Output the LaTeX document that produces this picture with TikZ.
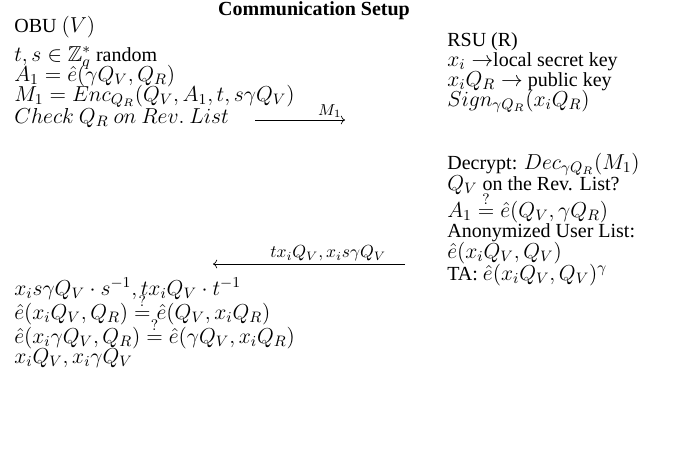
\RequirePackage{fix-cm}
\documentclass[tikz,border=0pt]{standalone}
\usepackage{amsmath,amssymb}
\usepackage[no-math]{fontspec}
\setmainfont{Liberation Serif}
\DeclareMathSizes{12}{13}{9.1}{6.5}
\usetikzlibrary{positioning,arrows.meta}

\tikzset{
  lline/.style={anchor=base west, inner sep=0pt, font=\fontsize{12}{14}\selectfont},
  msg/.style={->, >=To, line width=0.4pt},
  msglabel/.style={inner sep=1.5pt, font=\fontsize{9.5}{11}\selectfont}
}

\begin{document}
\begin{tikzpicture}[x=0.6pt,y=0.6pt]
        \useasboundingbox (0,0) rectangle (688,-452);
        \node[anchor=base, inner sep=0pt, font=\fontsize{12}{14}\selectfont\bfseries] (title) at (314,-16) {Communication Setup};
        % OBU side
        \node[lline] (obu) at (14,-33) {OBU $(V)$};
        \node[lline] (rnd) at (14,-61) {$t,s\in\mathbb{Z}_q^*$ random};
        \node[lline] (aone) at (14,-81) {$A_1=\hat{e}(\gamma Q_V,Q_R)$};
        \node[lline] (mone) at (14,-101) {$M_1=Enc_{Q_R}(Q_V,A_1,t,s\gamma Q_V)$};
        \node[lline] (chk) at (14,-123) {$Check\ Q_R\ on\ Rev.\ List$};
        % RSU side
        \node[lline] (rsu) at (447,-46) {RSU (R)};
        \node[lline] (sk) at (447,-66) {$x_i\rightarrow$local secret key};
        \node[lline] (pk) at (447,-86) {$x_iQ_R\rightarrow$ public key};
        \node[lline] (sign) at (447,-106) {$Sign_{\gamma Q_R}(x_iQ_R)$};
        \node[lline] (dec) at (447,-169) {Decrypt: $Dec_{\gamma Q_R}(M_1)$};
        \node[lline] (rev) at (447,-190) {$Q_V$ on the Rev. List?};
        \node[lline] (vone) at (447,-217) {$A_1\stackrel{?}{=}\hat{e}(Q_V,\gamma Q_R)$};
        \node[lline] (anon) at (447,-237) {Anonymized User List:};
        \node[lline] (pair) at (447,-258) {$\hat{e}(x_iQ_V,Q_V)$};
        \node[lline] (ta) at (447,-280) {TA: $\hat{e}(x_iQ_V,Q_V)^\gamma$};
        % back at OBU
        \node[lline] (unb) at (14,-295) {$x_is\gamma Q_V\cdot s^{-1},tx_iQ_V\cdot t^{-1}$};
        \node[lline] (vtwo) at (14,-319) {$\hat{e}(x_iQ_V,Q_R)\stackrel{?}{=}\hat{e}(Q_V,x_iQ_R)$};
        \node[lline] (vthree) at (14,-343) {$\hat{e}(x_i\gamma Q_V,Q_R)\stackrel{?}{=}\hat{e}(\gamma Q_V,x_iQ_R)$};
        \node[lline] (res) at (14,-363) {$x_iQ_V,x_i\gamma Q_V$};
        % messages
        \coordinate (ma) at (255,-120);
        \coordinate (mb) at (345,-120);
        \draw[msg] (ma) -- (mb) node[msglabel, pos=0.83, above] {$M_1$};
        \coordinate (ra) at (405,-264);
        \coordinate (rb) at (213,-264);
        \draw[msg] (ra) -- (rb) node[msglabel, pos=0.4, above, font=\fontsize{10.5}{12}\selectfont] {$tx_iQ_V,x_is\gamma Q_V$};
    \end{tikzpicture}
\end{document}
